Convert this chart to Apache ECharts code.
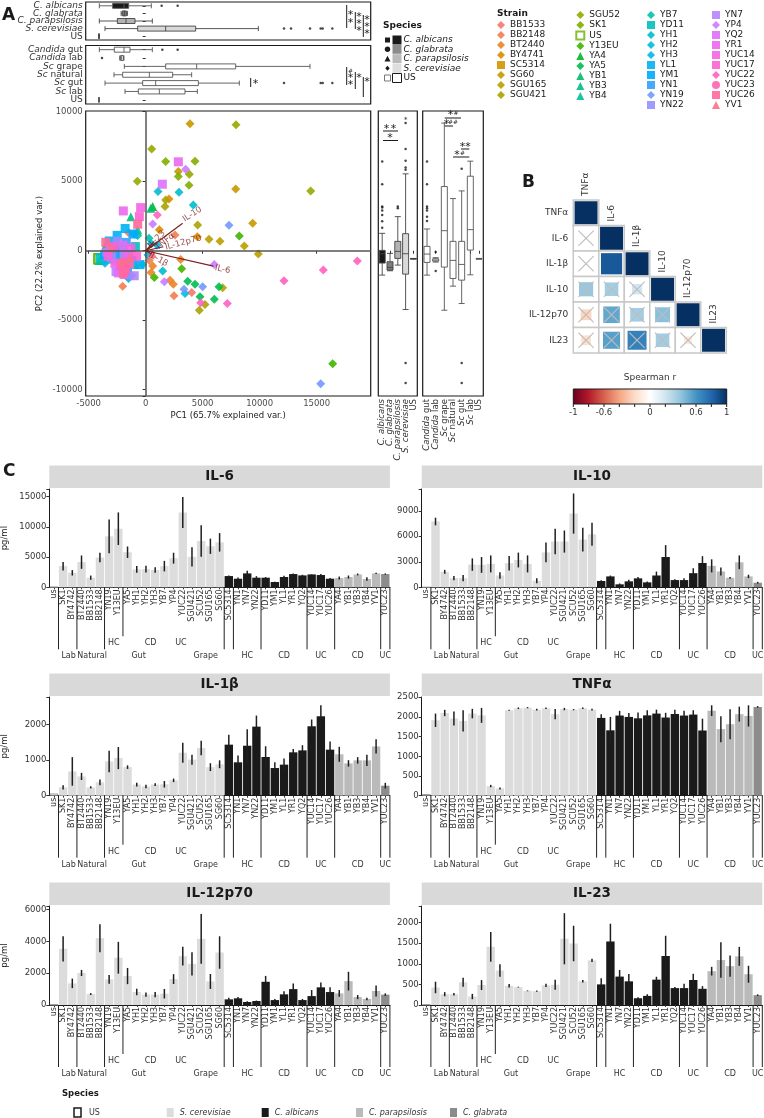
<!DOCTYPE html>
<html><head><meta charset="utf-8">
<script src="https://cdn.jsdelivr.net/npm/echarts@6/dist/echarts.min.js"></script>
<style>html,body{margin:0;padding:0;background:#fff}#c{width:764px;height:1118px}</style>
</head><body><div id="c"></div><script>
const FONT = 'DejaVu Sans';

// ---------------- Panel A data ----------------
const strainNames = ['BB1533','BB2148','BT2440','BY4741','SC5314','SG60','SGU165','SGU421','SGU52','SK1','US','Y13EU','YA4','YA5','YB1','YB3','YB4','YB7','YD11','YH1','YH2','YH3','YL1','YM1','YN1','YN19','YN22','YN7','YP4','YQ2','YR1','YUC14','YUC17','YUC22','YUC23','YUC26','YV1'];

const pcaSc = [
 ['SG60',3890,9135],['SG60',2866,5698],['SG60',7895,4447],['SG60',9386,1971],
 ['SGU165',5556,817],['SGU165',6520,673],['SGU165',8655,337],['SGU165',9883,-240],['SGU165',6754,-2668],
 ['SGU421',1754,3654],['SGU421',1696,3173],['SGU421',5204,-3870],['SGU421',4708,-4279],['SGU421',4561,1851],
 ['SGU52',7924,9063],['SGU52',14474,4303],['SGU52',3830,5505],['SGU52',526,7308],['SGU52',-731,5000],
 ['SK1',4327,6443],['SK1',2866,5337],['SK1',3801,4712],['SK1',1754,6419],
 ['BY4741',2047,3726],['BY4741',-1813,-1731],['BY4741',1200,1500],['BY4741',4532,1000],
 ['BT2440',3070,-625],['BT2440',614,-1106],['BT2440',2135,-2116],['BT2440',2427,-2404],['BT2440',468,-1563],
 ['BB1533',-2778,-800],['BB1533',-2000,300],['BB1533',4035,-3005],['BB1533',-1500,1300],
 ['BB2148',2485,-3245],['BB2148',2573,1130],['BB2148',-2018,-2548],['BB2148',322,-700],
 ['YN19',7310,1827],['YN19',15351,-9567],['YN19',4999,-2596],['YN19',3363,-2765],
 ['Y13EU',8216,1058],['Y13EU',16404,-8125],['Y13EU',3158,-1298],['Y13EU',760,-1923],
 ['YA5',3684,-2188],['YA5',4327,-2404],['YA5',6433,-2596],['YA5',6023,-3486],['YA5',4766,-3318],
 ['YH1',1082,4255],['YH1',2924,4207],['YH1',4181,3293],['YH1',1491,-1466],
 ['YH2',3450,-3077],['YH2',-263,-1000],['YH2',-1000,1200],['YH2',500,500],
 ['YH3',-3567,-900],['YH3',-1500,-2000],['YH3',200,-300],['YH3',1000,400],
 ['YB7',-700,1100],['YB7',-2500,-200],['YB7',-1200,-1800],['YB7',300,900],
 ['YP4',3509,5866],['YP4',614,1923],['YP4',1637,-2236],['YP4',6023,-986],
 ['YUC22',18568,-745],['YUC22',15585,-1394],['YUC22',12135,-2164],['YUC22',7164,-3798],['YUC22',1023,2572],['YUC22',4824,-3750]
];
const pcaCa = [
 ['SC5314',-4100,-600],['SC5314',-3900,-700],['SC5314',-2200,400],['SC5314',-1500,-300],
 ['YN1',-2800,-300],['YN1',-2200,-1200],['YN1',-1700,600],['YN1',-1200,-700],
 ['YN7',-3400,-100],['YN7',-2600,-1500],['YN7',-1900,-200],['YN7',-1000,-1800],
 ['YN22',-3000,-500],['YN22',-1800,-1700],['YN22',-1400,-1000],['YN22',-2500,700],
 ['YD11',-4000,-500],['YD11',-2900,100],['YD11',-2100,-800],['YD11',-900,300],
 ['YM1',-3600,-300],['YM1',-2300,-100],['YM1',-1600,-1400],['YM1',-1100,1200],
 ['YL1',-3200,700],['YL1',-2500,1100],['YL1',-1800,1600],['YL1',-500,-1000],
 ['YR1',2866,6395],['YR1',-1959,2861],['YR1',-2700,-900],['YR1',-1600,-400],
 ['YQ2',1462,4784],['YQ2',-2400,-1600],['YQ2',-3100,200],['YQ2',-2000,400],
 ['YUC14',-439,3101],['YUC14',-3300,-400],['YUC14',-1900,-1700],['YUC14',-1300,200],
 ['YUC17',-556,2452],['YUC17',-2200,-1100],['YUC17',-2800,300],['YUC17',-800,-400],
 ['YUC26',-700,1900],['YUC26',-2000,-1600],['YUC26',-1500,-900],['YUC26',-3500,600]
];
const pcaCp = [
 ['YA4',614,3173],['YA4',-2100,-200],['YA4',-3500,400],['YA4',-1200,-700],
 ['YB1',450,3053],['YB1',-2700,-500],['YB1',-1700,100],['YB1',-900,-1000],
 ['YB3',-1300,2452],['YB3',-3300,-600],['YB3',-2300,600],['YB3',-1600,-400],
 ['YB4',-700,1500],['YB4',-4064,-700],['YB4',-2000,-300],['YB4',-2600,800],
 ['YV1',-3000,200],['YV1',-1400,-500],['YV1',-2200,-800],['YV1',585,-200]
];
const pcaCg = [['YUC23',-2047,-800],['YUC23',-1800,-1200],['YUC23',-1696,-1400],['YUC23',-1900,-1000]];
const pcaUS = [['US',-4094,-577],['US',-4094,-590],['US',-4090,-570],['US',-4098,-580]];

const loadings = [['IL-10',3246,1971],['IL-6',5936,-1106],['IL-12p70',1550,288],['TNFα',965,577],['IL-23',731,649],['IL-1β',526,-240]];

const speciesCats = ['C. albicans','C. glabrata','C. parapsilosis','S. cerevisiae','US'];
const sourceCats = ['Candida gut','Candida lab','Sc grape','Sc natural','Sc gut','Sc lab','US'];
const boxSpeciesPC1 = [[-4064,-2895,-1900,-1491,497],[-2150,-2047,-1871,-1696,-1600],[-4064,-2485,-1725,-935,585],[-3567,-702,1754,4386,9883],[-4110,-4100,-4094,-4088,-4080]];
const boxSpeciesPC1Out = [[1404,0],[2807,0],[12135,3],[12749,3],[14416,3],[15351,3],[15527,3],[16374,3]];
const boxSourcePC1 = [[-4064,-2749,-1900,-1374,585],[-2281,-2200,-2100,-1950,-1900],[-1871,1754,4474,7895,14416],[-2778,-2018,322,2369,4035],[-3567,-263,877,4620,8216],[-1813,-643,1199,3450,4532],[-4110,-4100,-4094,-4088,-4080]];
const boxSourcePC1Out = [[1462,0],[2807,0],[-3830,1],[12135,4],[15351,4],[15527,4],[16374,4]];
const boxSpeciesPC2 = [[-1755,-889,-216,24,1250],[-1442,-1394,-1202,-793,-192],[-1034,-553,-48,673,2452],[-4231,-1683,-216,1226,5529],[-600,-590,-577,-565,-555]];
const boxSpeciesPC2Out = [[0,6419],[0,4784],[0,3173],[0,3101],[0,2885],[0,2572],[0,2116],[0,1659],[2,3173],[2,3053],[3,9183],[3,7308],[3,6467],[3,5986],[3,5818],[3,-8077],[3,-9520]];
const boxSourcePC2 = [[-1755,-841,-240,313,1563],[-817,-750,-673,-577,-500],[-4279,-1178,1442,4616,9183],[-2548,-1995,-697,673,3750],[-3798,-2116,-986,673,4303],[-1731,48,1515,5361,6443],[-600,-590,-577,-565,-555]];
const boxSourcePC2Out = [[0,6419],[0,4784],[0,3173],[0,3053],[0,2885],[0,2452],[0,2140],[1,-96],[1,-1466],[4,5890],[4,-8077],[4,-9520]];

// ---------------- Panel B data ----------------
const corrVars = ['TNFα','IL-6','IL-1β','IL-10','IL-12p70','IL23'];
const corrVals = [[1],[0.02,1],[0.02,0.85,1],[0.38,0.35,0.2,1],[-0.22,0.52,0.35,0.42,1],[-0.18,0.55,0.68,0.35,-0.12,1]];
const corrSig = [[1],[0,1],[0,1,1],[0,0,0,1],[0,0,0,0,1],[0,0,0,0,0,1]];
const cbarTicks = [-1,-0.6,0,0.6,1];

// ---------------- Panel C data ----------------
const barCats = ['us','SK1','BY4742','BT2440','BB1533','BB2148','YN19','Y13EU','YA5','YH1','YH2','YH3','YB7','YP4','YUC22','SGU421','SCU52','SGU165','SG60','SC5314','YN1','YN7','YN22','YD11','YM1','YL1','YR1','YQ2','YUC14','YUC17','YUC26','YA4','YB1','YB3','YB4','YV1','YUC23'];
const barSpecies = ['US','Sc','Sc','Sc','Sc','Sc','Sc','Sc','Sc','Sc','Sc','Sc','Sc','Sc','Sc','Sc','Sc','Sc','Sc','Ca','Ca','Ca','Ca','Ca','Ca','Ca','Ca','Ca','Ca','Ca','Ca','Cp','Cp','Cp','Cp','Cp','Cg'];
const il6Mean = [50,3500,2400,4160,1590,4930,8430,9690,5800,2960,3000,2850,3500,4820,12370,5040,7660,6790,7440,1860,1420,2300,1590,1590,880,1700,2190,1970,2130,2030,1420,1530,1700,2130,1370,2300,2200];
const il6Err = [0,700,450,1100,350,800,2800,2700,950,550,550,450,870,900,2570,1600,2600,1260,1530,100,200,450,250,100,50,200,100,100,50,150,100,250,250,150,300,100,100];
const il10Mean = [0,7740,1820,1080,1080,2670,2630,2750,1390,2830,3210,2750,770,4100,5380,5380,8670,5610,6230,740,1280,350,700,1050,580,1390,3560,850,850,1660,2860,2520,1860,1120,2940,1280,540];
const il10Err = [0,450,230,250,380,730,930,1000,390,850,870,1000,290,1160,1500,1300,2360,1390,1350,100,100,100,200,150,100,460,1400,100,200,580,800,770,460,100,810,200,100];
const il1bMean = [60,234,680,540,234,374,960,1055,800,310,260,310,320,430,1205,1010,1336,800,880,1430,935,1400,1935,1085,775,870,1215,1270,1945,2225,1290,1160,905,990,990,1380,280];
const il1bErr = [0,60,400,100,30,80,300,310,50,50,50,40,90,50,280,140,200,110,110,280,190,460,310,300,160,175,95,145,190,310,230,210,90,90,160,200,80];
const tnfMean = [40,1915,2100,1960,1900,2085,2040,245,185,2170,2220,2235,2185,2220,2070,2200,2185,2220,2185,1975,1660,2035,2000,1965,2040,2085,1985,2075,2035,2060,1655,2160,1690,1815,2070,2025,2255];
const tnfErr = [0,170,80,180,270,120,190,30,25,10,20,15,20,20,130,30,15,20,20,90,340,120,100,150,130,100,120,110,120,110,300,135,330,380,190,270,20];
const il12Mean = [20,3530,1360,2010,690,4200,1610,2970,1820,815,650,650,710,1630,3070,2590,4160,1480,3300,355,420,190,250,1460,310,670,1000,310,560,1110,815,730,1500,500,380,880,650];
const il12Err = [0,800,300,190,60,880,270,1000,510,200,130,170,300,310,590,730,1560,470,1020,100,80,40,30,370,70,190,350,70,380,310,300,210,590,130,80,350,80];
const il23Mean = [10,426,262,262,550,205,484,1410,836,467,434,344,336,475,492,1607,1492,574,1082,500,1541,689,574,164,221,615,1189,410,410,607,393,820,1090,943,1180,746,238];
const il23Err = [0,140,50,30,110,65,120,360,150,40,10,10,15,40,120,620,430,30,40,150,430,160,175,25,40,70,490,25,105,150,65,105,430,260,230,205,20];
const groupBounds = [0,2,5,7,18,19,22,27,30,35,36];
const groupTop = [['HC',6.5],['CD',10.5],['UC',13.8]];
const groupBottom = [['Lab',1.6],['Natural',4.15],['Gut',9.2],['Grape',16.5],['HC',21],['CD',25],['UC',29],['CD',33],['UC',36]];
const legendSpecies = ['US','S. cerevisiae','C. albicans','C. parapsilosis','C. glabrata'];

// ---------------- helpers ----------------
function hcl(h, c, l) {
  const hr = h * Math.PI / 180, U = c * Math.cos(hr), V = c * Math.sin(hr);
  const Xn = 95.047, Yn = 100, Zn = 108.883;
  const un = 4 * Xn / (Xn + 15 * Yn + 3 * Zn), vn = 9 * Yn / (Xn + 15 * Yn + 3 * Zn);
  const Y = l > 8 ? Yn * Math.pow((l + 16) / 116, 3) : Yn * l / 903.3;
  const u = U / (13 * l) + un, v = V / (13 * l) + vn;
  const X = 9 * Y * u / (4 * v), Z = -X / 3 - 5 * Y + 3 * Y / v;
  const lin = [(3.240479 * X - 1.537150 * Y - 0.498535 * Z) / 100, (-0.969256 * X + 1.875992 * Y + 0.041556 * Z) / 100, (0.055648 * X - 0.204043 * Y + 1.057311 * Z) / 100];
  const g = t => { t = t <= 0.0031308 ? 12.92 * t : 1.055 * Math.pow(t, 1 / 2.4) - 0.055; return Math.round(Math.max(0, Math.min(1, t)) * 255); };
  return 'rgb(' + lin.map(g).join(',') + ')';
}
const strainColor = {};
strainNames.forEach((n, i) => strainColor[n] = hcl(15 + i * 360 / 37, 100, 65));

const rdbu = ['#67001F','#B2182B','#D6604D','#F4A582','#FDDBC7','#FFFFFF','#D1E5F0','#92C5DE','#4393C3','#2166AC','#053061'];
function hex2rgb(h){ return [1,3,5].map(i => parseInt(h.substr(i,2),16)); }
function corrColor(r){
  const t = (r + 1) / 2 * 10; const i = Math.max(0, Math.min(9, Math.floor(t))); const f = t - i;
  const a = hex2rgb(rdbu[i]), b = hex2rgb(rdbu[i+1]);
  return 'rgb(' + a.map((x,k) => Math.round(x + (b[k]-x)*f)).join(',') + ')';
}
const speciesFill = {US:'#ffffff', Sc:'#dcdcdc', Ca:'#1a1a1a', Cp:'#bababa', Cg:'#8c8c8c'};

function T(x, y, text, o) {
  o = o || {};
  return {type:'text', x:x, y:y, rotation:o.rot || 0, z:100, silent:true,
    style:{text:text, fill:o.color || '#1a1a1a', fontSize:o.size || 9, fontFamily:FONT,
      fontWeight:o.bold ? 'bold' : 'normal', fontStyle:o.italic ? 'italic' : 'normal',
      align:o.align || 'left', verticalAlign:o.va || 'middle', textAlign:o.align || 'left', textVerticalAlign:o.va || 'middle'}};
}
function L(x1, y1, x2, y2, c, w) { return {type:'line', z:100, silent:true, shape:{x1, y1, x2, y2}, style:{stroke:c || '#1a1a1a', lineWidth:w || 1}}; }
function R(x, y, w, h, fill, stroke, lw) { return {type:'rect', z:100, silent:true, shape:{x, y, width:w, height:h}, style:{fill:fill, stroke:stroke || null, lineWidth:lw || 0}}; }
function star(x, y) { return T(x, y + 2, '*', {size:11, align:'center'}); }

// ---------------- grids ----------------
const grids = [
  {left:85.7, top:2, width:285, height:38},
  {left:85.7, top:45.5, width:285, height:58.5},
  {left:85.7, top:111, width:285, height:285},
  {left:378.3, top:111, width:39, height:285},
  {left:422.7, top:111, width:60.6, height:285},
  {left:573.3, top:200, width:153, height:153}
].map(g => Object.assign({show:true, borderColor:'#1a1a1a', borderWidth:1.2, containLabel:false, outerBoundsMode:'none'}, g));
grids[5].show = false;

const barPanels = [
  {title:'IL-6', mean:il6Mean, err:il6Err, max:16265, interval:5000, left:49.3, top:489, h:98.3, yname:true},
  {title:'IL-10', mean:il10Mean, err:il10Err, max:11560, interval:3000, left:421.7, top:489, h:98.3},
  {title:'IL-1β', mean:il1bMean, err:il1bErr, max:2765, interval:1000, left:49.3, top:697, h:98.7, yname:true},
  {title:'TNFα', mean:tnfMean, err:tnfErr, max:2506, interval:500, left:421.7, top:697, h:98.7},
  {title:'IL-12p70', mean:il12Mean, err:il12Err, max:6225, interval:2000, left:49.3, top:906, h:99, yname:true},
  {title:'IL-23', mean:il23Mean, err:il23Err, max:2401, interval:500, left:421.7, top:906, h:99}
];
barPanels.forEach(p => grids.push({left:p.left, top:p.top, width:340.6, height:p.h, containLabel:false, outerBoundsMode:'none'}));

const axLbl = {fontFamily:FONT, color:'#4d4d4d', fontSize:8.5};
const tickS = {show:true, length:3, lineStyle:{color:'#333', width:1}};
const italRich = {i:{fontStyle:'italic', fontFamily:FONT, fontSize:9, color:'#333'}};
const italRichV = {i:{fontStyle:'italic', fontFamily:FONT, fontSize:8.5, color:'#333'}};
const fmtSpecies = v => v === 'US' ? v : '{i|' + v + '}';
const fmtSource = v => { const m = v.match(/^(Candida|Sc) (.*)$/); return m ? '{i|' + m[1] + '} ' + m[2] : v; };
const fmtMult = k => v => (Math.abs(v % k) < 1e-6 ? String(v) : '');

const PCX = {min:-5260, max:19740};
const PCY = {min:-10450, max:10050};

const xAxes = [
  Object.assign({type:'value', gridIndex:0, show:false}, PCX),
  Object.assign({type:'value', gridIndex:1, show:false}, PCX),
  Object.assign({type:'value', gridIndex:2, splitNumber:5, axisLine:{show:false}, axisTick:tickS, splitLine:{show:false},
    axisLabel:Object.assign({formatter:fmtMult(5000), margin:3, showMinLabel:true, showMaxLabel:true}, axLbl),
    name:'PC1 (65.7% explained var.)', nameLocation:'middle', nameGap:15, nameTextStyle:{fontFamily:FONT, fontSize:8.5, color:'#1a1a1a'}}, PCX),
  {type:'category', gridIndex:3, data:speciesCats, axisLine:{show:false}, axisTick:Object.assign({alignWithLabel:true}, tickS),
    axisLabel:{rotate:90, interval:0, margin:3, fontSize:8.5, fontFamily:FONT, color:'#333', formatter:fmtSpecies, rich:italRichV}},
  {type:'category', gridIndex:4, data:sourceCats, axisLine:{show:false}, axisTick:Object.assign({alignWithLabel:true}, tickS),
    axisLabel:{rotate:90, interval:0, margin:3, fontSize:8.5, fontFamily:FONT, color:'#333', formatter:fmtSource, rich:italRichV}},
  {type:'category', gridIndex:5, data:corrVars, show:false}
];
const yAxes = [
  {type:'category', gridIndex:0, data:speciesCats, inverse:true, axisLine:{show:false}, axisTick:Object.assign({alignWithLabel:true, interval:0}, tickS),
    axisLabel:{interval:0, hideOverlap:false, fontSize:9, fontFamily:FONT, color:'#333', margin:3, lineHeight:8, formatter:fmtSpecies, rich:italRich}},
  {type:'category', gridIndex:1, data:sourceCats, inverse:true, axisLine:{show:false}, axisTick:Object.assign({alignWithLabel:true, interval:0}, tickS),
    axisLabel:{interval:0, hideOverlap:false, fontSize:9, fontFamily:FONT, color:'#333', margin:3, lineHeight:8, formatter:fmtSource, rich:italRich}},
  Object.assign({type:'value', gridIndex:2, splitNumber:5, axisLine:{show:false}, axisTick:tickS, splitLine:{show:false},
    axisLabel:Object.assign({formatter:fmtMult(5000), margin:3}, axLbl),
    name:'PC2 (22.2% explained var.)', nameLocation:'middle', nameGap:41, nameRotate:90, nameTextStyle:{fontFamily:FONT, fontSize:8.5, color:'#1a1a1a'}}, PCY),
  Object.assign({type:'value', gridIndex:3, show:false}, PCY),
  Object.assign({type:'value', gridIndex:4, show:false}, PCY),
  {type:'category', gridIndex:5, data:corrVars, inverse:true, axisLine:{show:false}, axisTick:{show:false},
    axisLabel:{fontSize:9, fontFamily:FONT, color:'#333', margin:5}}
];
barPanels.forEach((p, j) => {
  const gi = 6 + j;
  xAxes.push({type:'category', gridIndex:gi, data:barCats, boundaryGap:true,
    axisLine:{show:true, lineStyle:{color:'#1a1a1a', width:1}},
    axisTick:{show:true, alignWithLabel:true, length:2, lineStyle:{color:'#333'}},
    axisLabel:{rotate:90, interval:0, fontSize:8, fontFamily:FONT, color:'#333', margin:2}});
  yAxes.push({type:'value', gridIndex:gi, min:0, max:p.max, interval:p.interval,
    axisLine:{show:true, lineStyle:{color:'#1a1a1a', width:1}}, axisTick:tickS, splitLine:{show:false},
    axisLabel:Object.assign({formatter:fmtMult(p.interval), margin:3}, axLbl, {color:'#333'}),
    name:p.yname ? 'pg/ml' : '', nameLocation:'middle', nameGap:40, nameRotate:90,
    nameTextStyle:{fontFamily:FONT, fontSize:8.5, color:'#1a1a1a'}});
});

// ---------------- series ----------------
const series = [];
const a1Fill = ['#1a1a1a','#7f7f7f','#b3b3b3','#d9d9d9','#ffffff'];
series.push({type:'boxplot', xAxisIndex:0, yAxisIndex:0, boxWidth:[5,5], silent:true,
  data:boxSpeciesPC1.map((d,i) => ({value:d, itemStyle:{color:a1Fill[i], borderColor:i===0?'#555':'#444', borderWidth:0.9}}))});
series.push({type:'scatter', xAxisIndex:0, yAxisIndex:0, symbolSize:2.5, silent:true, itemStyle:{color:'#1a1a1a'}, data:boxSpeciesPC1Out});
series.push({type:'boxplot', xAxisIndex:1, yAxisIndex:1, boxWidth:[5,5], silent:true,
  itemStyle:{color:'#fff', borderColor:'#555', borderWidth:0.9}, data:boxSourcePC1});
series.push({type:'scatter', xAxisIndex:1, yAxisIndex:1, symbolSize:2.5, silent:true, itemStyle:{color:'#1a1a1a'}, data:boxSourcePC1Out});
series.push({type:'boxplot', xAxisIndex:3, yAxisIndex:3, boxWidth:[6,6], silent:true,
  data:boxSpeciesPC2.map((d,i) => ({value:d, itemStyle:{color:a1Fill[i], borderColor:'#444', borderWidth:0.9}}))});
series.push({type:'scatter', xAxisIndex:3, yAxisIndex:3, symbolSize:2.5, silent:true, itemStyle:{color:'#1a1a1a'}, data:boxSpeciesPC2Out});
series.push({type:'boxplot', xAxisIndex:4, yAxisIndex:4, boxWidth:[6,6], silent:true,
  itemStyle:{color:'#fff', borderColor:'#555', borderWidth:0.9}, data:boxSourcePC2});
series.push({type:'scatter', xAxisIndex:4, yAxisIndex:4, symbolSize:2.5, silent:true, itemStyle:{color:'#1a1a1a'}, data:boxSourcePC2Out});

series.push({type:'scatter', xAxisIndex:2, yAxisIndex:2, symbolSize:0, silent:true, data:[[0,0]], z:1,
  markLine:{silent:true, symbol:'none', label:{show:false}, lineStyle:{color:'#555', width:1.5, type:'solid'},
    data:[{xAxis:0},{yAxis:0}]}});
const speciesSets = [[pcaSc,'diamond',9],[pcaCa,'rect',9],[pcaCp,'triangle',9],[pcaCg,'circle',8],[pcaUS,'emptyRect',9]];
strainNames.forEach(name => {
  let sym = 'diamond', size = 9, pts = [];
  speciesSets.forEach(([arr, s, z]) => {
    const f = arr.filter(r => r[0] === name);
    if (f.length) { sym = s; size = z; pts = f.map(r => [r[1], r[2]]); }
  });
  series.push({type:'scatter', name:name, xAxisIndex:2, yAxisIndex:2, symbol:sym, symbolSize:size, z:2, silent:true,
    itemStyle:sym === 'emptyRect' ? {color:strainColor[name], borderColor:strainColor[name], borderWidth:1.3}
                                  : {color:strainColor[name], opacity:0.9},
    data:pts});
});
const loadLabelPos = {'IL-10':[4094,2620,33], 'IL-6':[6754,-1346,-12], 'IL-12p70':[3304,577,15], 'TNFα':[1696,649,38], 'IL-23':[965,817,45], 'IL-1β':[1111,-625,-30]};
series.push({type:'scatter', xAxisIndex:2, yAxisIndex:2, symbolSize:0, silent:true, z:5,
  data:loadings.map(l => ({value:[loadLabelPos[l[0]][0], loadLabelPos[l[0]][1]],
    label:{show:true, position:'inside', formatter:l[0], rotate:loadLabelPos[l[0]][2], color:'#7f2020', fontSize:8.5, fontFamily:FONT}})),
  markLine:{silent:true, symbol:['none','arrow'], symbolSize:[0,6], label:{show:false},
    lineStyle:{color:'#7f2020', width:1.2, type:'solid'},
    data:loadings.map(l => [{coord:[0,0]},{coord:[l[1],l[2]]}])}});

const corrData = [];
corrVals.forEach((row, i) => row.forEach((r, j) => corrData.push([j, i, r, corrSig[i][j]])));
series.push({type:'custom', xAxisIndex:5, yAxisIndex:5, clip:false, silent:true, data:corrData,
  renderItem:(p, api) => {
    const col = api.value(0), row = api.value(1), r = api.value(2), sig = api.value(3);
    const c = api.coord([col, row]), s = api.size([1, 1]), w = s[0], h = s[1];
    const ch = [{type:'rect', shape:{x:c[0]-w/2, y:c[1]-h/2, width:w, height:h}, style:{fill:'#fff', stroke:'#c8c8c8', lineWidth:1.5}}];
    const side = (col === row ? 1 : Math.sqrt(Math.abs(r))) * (w - 2.5);
    ch.push({type:'rect', shape:{x:c[0]-side/2, y:c[1]-side/2, width:side, height:side}, style:{fill:corrColor(r)}});
    if (!sig) {
      const d = w * 0.3;
      ch.push({type:'line', shape:{x1:c[0]-d, y1:c[1]-d, x2:c[0]+d, y2:c[1]+d}, style:{stroke:'#bdbdbd', lineWidth:1.1}});
      ch.push({type:'line', shape:{x1:c[0]-d, y1:c[1]+d, x2:c[0]+d, y2:c[1]-d}, style:{stroke:'#bdbdbd', lineWidth:1.1}});
    }
    if (col === row) {
      ch.push({type:'text', x:c[0], y:c[1]-h/2-4, rotation:Math.PI/2,
        style:{text:corrVars[col], fill:'#333', fontSize:9, fontFamily:FONT, align:'left', verticalAlign:'middle', textAlign:'left', textVerticalAlign:'middle'}});
    }
    return {type:'group', children:ch};
  }});

barPanels.forEach((p, j) => {
  const k = 6 + j;
  series.push({type:'bar', xAxisIndex:k, yAxisIndex:k, barCategoryGap:'9%', silent:true, z:2,
    data:p.mean.map((v, i) => ({value:v, itemStyle:{color:speciesFill[barSpecies[i]],
      borderColor:barSpecies[i] === 'US' ? '#8a8a8a' : null, borderWidth:barSpecies[i] === 'US' ? 0.8 : 0}}))});
  series.push({type:'custom', xAxisIndex:k, yAxisIndex:k, clip:false, silent:true, z:3,
    data:p.mean.map((m, i) => [i, m - p.err[i], m + p.err[i]]), encode:{x:0, y:[1, 2]},
    renderItem:(params, api) => {
      const lo = api.coord([api.value(0), api.value(1)]), hi = api.coord([api.value(0), api.value(2)]);
      if (lo[1] - hi[1] < 0.5) return null;
      return {type:'line', shape:{x1:lo[0], y1:lo[1], x2:hi[0], y2:hi[1]}, style:{stroke:'#1f1f1f', lineWidth:1.5}};
    }});
  series.push({type:'custom', xAxisIndex:k, yAxisIndex:k, clip:false, silent:true, z:3, data:[[0, 0]],
    renderItem:(params, api) => {
      const base = api.coord([0, 0]), band = api.size([1, 0])[0];
      const x0 = base[0], y0 = base[1];
      const ch = [];
      groupBounds.forEach(b => {
        const x = x0 + (b + 0.5) * band;
        ch.push({type:'line', shape:{x1:x, y1:y0, x2:x, y2:y0 + (b === 7 ? 49 : 62)}, style:{stroke:'#222', lineWidth:1}});
      });
      const txt = (t, pos, dy) => ({type:'text', x:x0 + pos * band, y:y0 + dy,
        style:{text:t, fill:'#333', fontSize:8, fontFamily:FONT, align:'center', verticalAlign:'middle', textAlign:'center', textVerticalAlign:'middle'}});
      groupTop.forEach(g => ch.push(txt(g[0], g[1], 56)));
      groupBottom.forEach(g => ch.push(txt(g[0], g[1], 69)));
      return {type:'group', children:ch};
    }});
});

// ---------------- legends ----------------
const legBase = {orient:'vertical', itemWidth:8, itemHeight:8, itemGap:1, padding:0, selectedMode:false,
  textStyle:{fontSize:9, fontFamily:FONT, color:'#1a1a1a', lineHeight:9}};
const legends = [
  Object.assign({left:497, top:20.5, data:strainNames.slice(0, 8)}, legBase),
  Object.assign({left:575.3, top:10.5, data:strainNames.slice(8, 17)}, legBase),
  Object.assign({left:647, top:10.5, data:strainNames.slice(17, 27)}, legBase),
  Object.assign({left:712, top:10.5, data:strainNames.slice(27, 37)}, legBase)
];

// ---------------- graphics ----------------
const G = [];
G.push(T(2, 16, 'A', {size:17, bold:true}));
G.push(T(522, 183, 'B', {size:17, bold:true}));
G.push(T(3, 472, 'C', {size:17, bold:true}));
G.push(T(497, 14, 'Strain', {bold:true, size:9}));
G.push(T(383, 26, 'Species', {bold:true, size:9}));
const spRows = [40, 49.3, 58.7, 68.3, 78];
const spFill = ['#1a1a1a', '#8c8c8c', '#bababa', '#dedede', '#ffffff'];
const spNames = ['C. albicans', 'C. glabrata', 'C. parapsilosis', 'S. cerevisiae', 'US'];
spRows.forEach((y, i) => {
  G.push(R(392.5, y - 4.5, 9, 9, spFill[i], i === 4 ? '#1a1a1a' : null, i === 4 ? 1 : 0));
  G.push(T(403.5, y, spNames[i], {italic:i < 4, size:9}));
});
G.push(R(385, spRows[0] - 2.5, 5, 5, '#1a1a1a'));
G.push({type:'circle', z:100, shape:{cx:387.5, cy:spRows[1], r:2.7}, style:{fill:'#1a1a1a'}});
G.push({type:'polygon', z:100, shape:{points:[[384.5, spRows[2] + 2.7], [390.5, spRows[2] + 2.7], [387.5, spRows[2] - 3]]}, style:{fill:'#1a1a1a'}});
G.push({type:'polygon', z:100, shape:{points:[[387.5, spRows[3] - 2.5], [389.7, spRows[3]], [387.5, spRows[3] + 2.5], [385.3, spRows[3]]]}, style:{fill:'#1a1a1a'}});
G.push(R(384.5, spRows[4] - 3, 6, 6, '#fff', '#777', 1));
G.push(L(346.7, 5, 346.7, 28)); G.push(star(350.5, 13.5)); G.push(star(350.5, 21));
G.push(L(355.3, 12, 355.3, 29)); G.push(star(359, 15)); G.push(star(359, 22)); G.push(star(359, 29));
G.push(L(363.3, 15, 363.3, 37)); G.push(star(367, 18.5)); G.push(star(367, 25.5)); G.push(star(367, 32.5));
G.push(T(350.5, 71, '#', {size:6, align:'center'}));
G.push(L(346.7, 67, 346.7, 85)); G.push(star(350.5, 76)); G.push(star(350.5, 83.5));
G.push(L(355.3, 72, 355.3, 89)); G.push(star(359, 76));
G.push(L(363.3, 77, 363.3, 97)); G.push(star(367, 80));
G.push(L(250.7, 78, 250.7, 87)); G.push(star(255.5, 82));
G.push(star(386.5, 127)); G.push(star(393.5, 127)); G.push(L(383, 131, 398, 131));
G.push(star(390, 136.5)); G.push(L(383, 140.5, 398, 140.5));
G.push(T(405.7, 120, '*', {size:7, align:'center'}));
G.push(star(450.5, 113)); G.push(T(456, 113, '#', {size:6, align:'center'})); G.push(L(444.7, 118, 461, 118));
G.push(star(446.5, 122)); G.push(T(453, 122, '##', {size:6, align:'center'})); G.push(L(444.7, 126, 453, 126));
G.push(star(462.5, 145)); G.push(star(468, 145)); G.push(L(461, 149, 469.3, 149));
G.push(star(457, 153)); G.push(T(462.5, 153, '#', {size:6, align:'center'})); G.push(L(453, 157, 469.3, 157));
G.push(T(650, 378, 'Spearman r', {size:9, align:'center', color:'#333'}));
G.push({type:'rect', z:100, shape:{x:573.3, y:389, width:153.4, height:15},
  style:{fill:{type:'linear', x:0, y:0, x2:1, y2:0, colorStops:rdbu.map((c, i) => ({offset:i / 10, color:c}))}, stroke:'#1a1a1a', lineWidth:1}});
for (let t = -1; t <= 1.0001; t += 0.2) {
  const x = 573.3 + (t + 1) / 2 * 153.4;
  G.push(L(x, 404, x, 407, '#1a1a1a', 1));
}
cbarTicks.forEach(t => G.push(T(573.3 + (t + 1) / 2 * 153.4, 413, String(t), {size:8.5, align:'center', color:'#333'})));
barPanels.forEach(p => {
  G.push(R(p.left, p.top - 23.5, 340.6, 22.5, '#d9d9d9'));
  G.push(T(p.left + 170.3, p.top - 12.3, p.title, {size:13.5, bold:true, align:'center'}));
});
G.push(T(62, 1094, 'Species', {bold:true, size:8.5}));
const blX = [74, 166.7, 261.7, 356, 450];
const blFill = ['#ffffff', '#dcdcdc', '#1a1a1a', '#bababa', '#8c8c8c'];
legendSpecies.forEach((n, i) => {
  G.push(R(blX[i], 1108, 7, 9, blFill[i], i === 0 ? '#1a1a1a' : null, i === 0 ? 1.5 : 0));
  G.push(T(blX[i] + (i === 0 ? 15 : 13), 1112.5, n, {size:8, italic:i > 0, color:'#333'}));
});

const option = {
  animation:false,
  backgroundColor:'#fff',
  textStyle:{fontFamily:FONT},
  grid:grids, xAxis:xAxes, yAxis:yAxes, series:series, legend:legends,
  graphic:{elements:G}
};
const chart = echarts.init(document.getElementById('c'), null, {renderer:'canvas'});
chart.setOption(option);
</script></body></html>
